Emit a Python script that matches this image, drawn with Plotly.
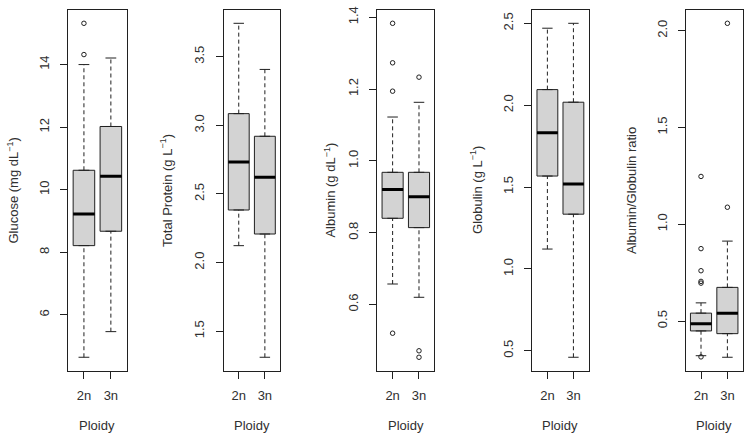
import plotly.graph_objects as go

# ---------------- data ----------------
groups = ["2n", "3n"]
group_pos = [1, 2]

panel_titles = [
    "Glucose (mg dL<sup>−1</sup>)",
    "Total Protein (g L<sup>−1</sup>)",
    "Albumin (g dL<sup>−1</sup>)",
    "Globulin (g L<sup>−1</sup>)",
    "Albumin/Globulin ratio",
]

# per panel: [2n, 3n]
glucose_q1 = [8.21, 8.67]
glucose_med = [9.22, 10.43]
glucose_q3 = [10.62, 12.02]
glucose_lo = [4.64, 5.46]
glucose_hi = [14.00, 14.21]
glucose_out = [[14.32, 15.32], []]

protein_q1 = [2.383, 2.208]
protein_med = [2.732, 2.622]
protein_q3 = [3.085, 2.920]
protein_lo = [2.123, 1.310]
protein_hi = [3.743, 3.407]
protein_out = [[], []]

albumin_q1 = [0.840, 0.814]
albumin_med = [0.920, 0.900]
albumin_q3 = [0.968, 0.968]
albumin_lo = [0.657, 0.620]
albumin_hi = [1.122, 1.163]
albumin_out = [[1.383, 1.273, 1.194, 0.520], [1.233, 0.471, 0.453]]

globulin_q1 = [1.567, 1.334]
globulin_med = [1.832, 1.518]
globulin_q3 = [2.095, 2.018]
globulin_lo = [1.121, 0.460]
globulin_hi = [2.470, 2.500]
globulin_out = [[], []]

ratio_q1 = [0.449, 0.435]
ratio_med = [0.486, 0.541]
ratio_q3 = [0.541, 0.674]
ratio_lo = [0.321, 0.313]
ratio_hi = [0.594, 0.913]
ratio_out = [[1.247, 0.874, 0.760, 0.705, 0.696, 0.315], [1.088, 2.038]]

y_ticks = [
    [6, 8, 10, 12, 14],
    [1.5, 2.0, 2.5, 3.0, 3.5],
    [0.6, 0.8, 1.0, 1.2, 1.4],
    [0.5, 1.0, 1.5, 2.0, 2.5],
    [0.5, 1.0, 1.5, 2.0],
]
y_tickfmt = ["d", ".1f", ".1f", ".1f", ".1f"]

panels = [
    (glucose_q1, glucose_med, glucose_q3, glucose_lo, glucose_hi, glucose_out),
    (protein_q1, protein_med, protein_q3, protein_lo, protein_hi, protein_out),
    (albumin_q1, albumin_med, albumin_q3, albumin_lo, albumin_hi, albumin_out),
    (globulin_q1, globulin_med, globulin_q3, globulin_lo, globulin_hi, globulin_out),
    (ratio_q1, ratio_med, ratio_q3, ratio_lo, ratio_hi, ratio_out),
]

# ---------------- layout geometry ----------------
W, H = 755, 438
panel_px = [(68.3, 126.5), (223.6, 280.0), (377.3, 434.3), (532.3, 588.5), (685.7, 742.7)]
top_px, bot_px = 6, 370
title_off = [55, 57, 47, 55.6, 54]

FONT = "Liberation Sans, Arial, sans-serif"
TXT = "#303030"
LINE = "#202020"
BOXW = 0.8
STAPLE = 0.2

fig = go.Figure()
layout = dict(
    width=W, height=H, margin=dict(l=0, r=0, t=0, b=0),
    paper_bgcolor="white", plot_bgcolor="white", showlegend=False,
    font=dict(family=FONT, size=13, color=TXT),
    annotations=[],
)

for i, (q1, med, q3, lo, hi, out) in enumerate(panels):
    n = i + 1
    xa = "x" if n == 1 else f"x{n}"
    ya = "y" if n == 1 else f"y{n}"
    # box bodies
    fig.add_trace(go.Box(
        x=group_pos, q1=q1, median=med, q3=q3, lowerfence=q1, upperfence=q3,
        width=BOXW, fillcolor="#d3d3d3", line=dict(color=LINE, width=1),
        xaxis=xa, yaxis=ya, hoverinfo="skip", boxpoints=False,
    ))
    # dashed whiskers
    wx, wy = [], []
    for p, a, b, c, d in zip(group_pos, lo, q1, q3, hi):
        wx += [p, p, None, p, p, None]
        wy += [a, b, None, c, d, None]
    fig.add_trace(go.Scatter(x=wx, y=wy, mode="lines", xaxis=xa, yaxis=ya,
                             line=dict(color=LINE, width=1, dash="4px,3px"),
                             hoverinfo="skip"))
    # staples
    sx, sy = [], []
    for p, a, d in zip(group_pos, lo, hi):
        sx += [p - STAPLE, p + STAPLE, None, p - STAPLE, p + STAPLE, None]
        sy += [a, a, None, d, d, None]
    fig.add_trace(go.Scatter(x=sx, y=sy, mode="lines", xaxis=xa, yaxis=ya,
                             line=dict(color=LINE, width=1), hoverinfo="skip"))
    # thick medians
    mx, my = [], []
    for p, m in zip(group_pos, med):
        mx += [p - BOXW / 2, p + BOXW / 2, None]
        my += [m, m, None]
    fig.add_trace(go.Scatter(x=mx, y=my, mode="lines", xaxis=xa, yaxis=ya,
                             line=dict(color="black", width=3), hoverinfo="skip"))
    # outliers
    ox, oy = [], []
    for p, vals in zip(group_pos, out):
        ox += [p] * len(vals)
        oy += vals
    fig.add_trace(go.Scatter(x=ox, y=oy, mode="markers", xaxis=xa, yaxis=ya,
                             marker=dict(symbol="circle-open", size=4.5,
                                         color=LINE, line=dict(width=1)),
                             hoverinfo="skip"))

    # R-like 4% axis expansion
    allv = lo + hi + [v for g in out for v in g]
    vmin, vmax = min(allv), max(allv)
    pad = 0.04 * (vmax - vmin)
    l, r = panel_px[i]
    axis_common = dict(showline=True, mirror=True, linecolor=LINE, linewidth=1,
                       showgrid=False, zeroline=False, ticks="outside",
                       ticklen=7, tickcolor=LINE, tickwidth=1,
                       tickfont=dict(family=FONT, size=13, color=TXT))
    layout["xaxis" if n == 1 else f"xaxis{n}"] = dict(
        axis_common, domain=[l / W, r / W], range=[0.42, 2.58],
        tickvals=group_pos, ticktext=groups, anchor=ya, fixedrange=True,
        ticklabelstandoff=6,
    )
    layout["yaxis" if n == 1 else f"yaxis{n}"] = dict(
        axis_common, domain=[1 - bot_px / H, 1 - top_px / H],
        range=[vmin - pad, vmax + pad], tickvals=y_ticks[i],
        tickformat=y_tickfmt[i], tickangle=-90, anchor=xa, fixedrange=True,
        ticklabelstandoff=6,
    )
    layout["annotations"].append(dict(
        text=panel_titles[i], xref=f"{xa} domain", yref=f"{ya} domain",
        x=0, y=0.5, xshift=-title_off[i], xanchor="center", yanchor="middle",
        textangle=-90, showarrow=False, font=dict(family=FONT, size=13, color=TXT),
    ))
    layout["annotations"].append(dict(
        text="Ploidy", xref=f"{xa} domain", yref=f"{ya} domain",
        x=0.5, y=0, yshift=-55, xanchor="center", yanchor="middle",
        showarrow=False, font=dict(family=FONT, size=13, color=TXT),
    ))

fig.update_layout(**layout)
fig.write_html("out.html")
